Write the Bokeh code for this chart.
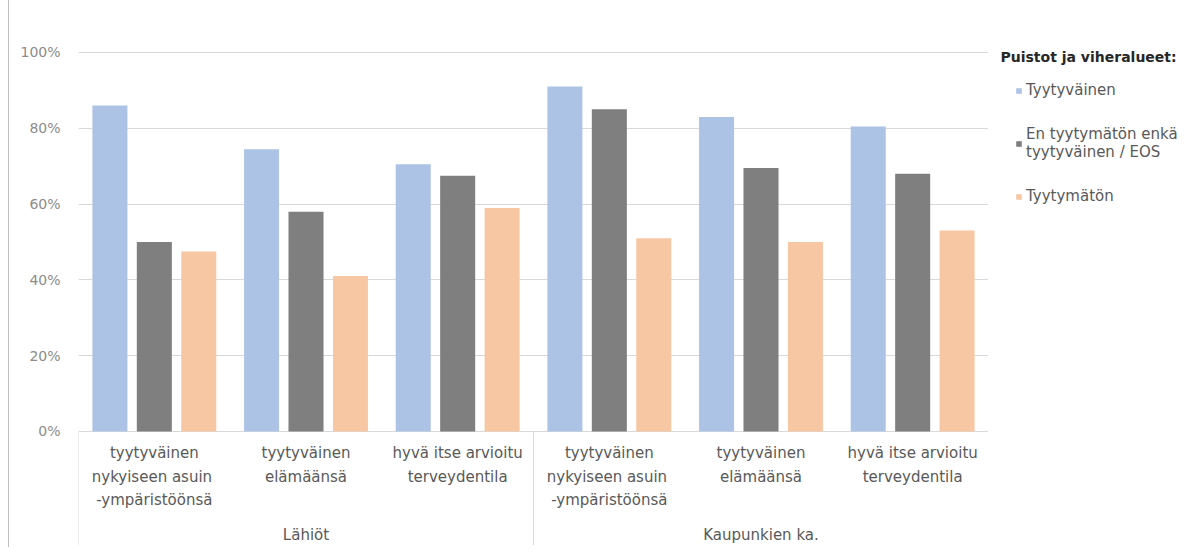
from bokeh.plotting import figure
from bokeh.layouts import row
from bokeh.models import (ColumnDataSource, FactorRange, Range1d, FixedTicker,
                          NumeralTickFormatter, Legend, LegendItem)
from bokeh.transform import dodge
from bokeh.core.properties import value
from bokeh.embed import file_html
from bokeh.resources import INLINE

# ---- data ----
groups = ["Lähiöt", "Kaupunkien ka."]
categories = ["tyytyväinen\nnykyiseen  asuin\n-ympäristöönsä",
              "tyytyväinen\nelämäänsä",
              "hyvä itse arvioitu\nterveydentila"]
series = ["Tyytyväinen", "En tyytymätön enkä\ntyytyväinen / EOS", "Tyytymätön"]
tyytyvainen = [0.86, 0.745, 0.705, 0.91, 0.83, 0.805]
eos = [0.50, 0.58, 0.675, 0.85, 0.695, 0.68]
tyytymaton = [0.475, 0.41, 0.59, 0.51, 0.50, 0.53]
y_ticks = [0, 0.2, 0.4, 0.6, 0.8, 1.0]
legend_title = "Puistot ja viheralueet:"

colors = ["#adc3e6", "#7f7f7f", "#f7c7a4"]
FONT = "DejaVu Sans"

factors = [(g, c) for g in groups for c in categories]
src = ColumnDataSource(dict(x=factors, s0=tyytyvainen, s1=eos, s2=tyytymaton,
                            label=[c for g in groups for c in categories]))

p = figure(width=980, height=547, output_backend="svg", toolbar_location=None,
           x_range=FactorRange(*factors, group_padding=0, range_padding=0),
           y_range=Range1d(-0.3008, 1.0844),
           min_border_left=69, min_border_right=1, min_border_top=20,
           min_border_bottom=2)
p.outline_line_color = None
p.styles = {"border-left": "1px solid #bfbfbf", "margin-left": "8px"}

offsets = [-0.293, 0.0, 0.293]
for i, col in enumerate(["s0", "s1", "s2"]):
    p.vbar(x=dodge("x", offsets[i], range=p.x_range), top=col, bottom=0,
           width=0.231, source=src, fill_color=colors[i], line_color=None)

# axes
p.xaxis.visible = False
p.yaxis.ticker = FixedTicker(ticks=y_ticks)
p.yaxis.formatter = NumeralTickFormatter(format="0%")
p.yaxis.axis_line_color = None
p.yaxis.major_tick_line_color = None
p.yaxis.minor_tick_line_color = None
p.yaxis.major_label_standoff = 12
p.yaxis.major_label_text_font = FONT
p.yaxis.major_label_text_font_size = "14px"
p.yaxis.major_label_text_color = "#8c8c8c"
p.ygrid.ticker = FixedTicker(ticks=y_ticks)
p.ygrid.grid_line_color = "#d9d9d9"
p.xgrid.grid_line_color = None

# category labels
p.text(x="x", y=-0.034, text="label", source=src, text_align="center",
       text_baseline="top", text_font=value(FONT), text_font_size="15px",
       text_color="#595959", text_line_height=1.3)
p.text(x=groups, y=[-0.274] * len(groups), text=groups, text_align="center",
       text_baseline="middle", text_font=value(FONT), text_font_size="15px",
       text_color="#595959")

# group separators
n = len(categories)
sep_x = [0, n, 2 * n]
p.segment(x0=sep_x, x1=sep_x, y0=[0] * 3, y1=[-0.30] * 3,
          line_color="#d9d9d9", line_width=1)

# legend panel (separate figure to the right, pixel-like coordinates)
lf = figure(width=205, height=547, output_backend="svg", toolbar_location=None,
            x_range=Range1d(0, 205), y_range=Range1d(525, 0),
            min_border_left=0, min_border_right=0, min_border_top=20,
            min_border_bottom=2)
lf.axis.visible = False
lf.grid.visible = False
lf.outline_line_color = None
dummy = ColumnDataSource(dict(x=[-100], top=[0]))
lrs = [lf.vbar(x="x", top="top", bottom=0, width=1, source=dummy,
               fill_color=colors[i], line_color=None) for i in range(3)]

lf.text(x=[12], y=[36], text=[legend_title], text_align="left",
        text_baseline="middle", text_font=value(FONT), text_font_style="bold",
        text_font_size="14px", text_color="#262626")

legend = Legend(items=[LegendItem(label=series[i], renderers=[lrs[i]])
                       for i in range(3)],
                location=(27, 340),
                label_text_font=FONT, label_text_font_size="15px",
                label_text_color="#595959", glyph_width=7, glyph_height=7,
                label_standoff=4, spacing=26, padding=0, margin=0,
                border_line_color=None, background_fill_alpha=0,
                label_text_line_height=1.5)
lf.add_layout(legend, "center")

open("out.html", "w").write(file_html(row(p, lf), INLINE))
